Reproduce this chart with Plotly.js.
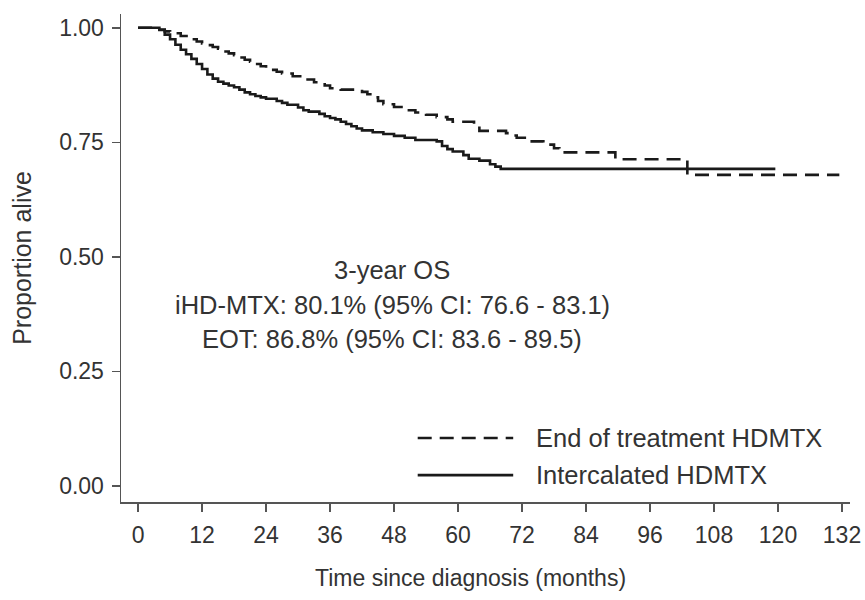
<!DOCTYPE html>
<html>
<head>
<meta charset="utf-8">
<script src="https://cdn.plot.ly/plotly-3.0.1.min.js"></script>
<style>
  html, body { margin: 0; padding: 0; background: #fff; }
  #chart { width: 865px; height: 600px; }
</style>
</head>
<body>
<div id="chart"></div>
<script>
// Kaplan-Meier overall survival, months since diagnosis
const eotMonths = [0, 4, 5, 6, 8, 10, 11, 12, 13, 14, 15, 16, 17, 18, 19, 20, 21, 22, 23, 24, 25, 26, 27, 29, 31, 33, 35, 36, 38, 42, 43, 44, 45, 46, 48, 50, 52, 54, 56, 58, 59, 63, 64, 69, 70, 71, 73, 76, 78, 79, 89.5, 103, 131.5];
const eotSurv   = [1, 0.996, 0.992, 0.988, 0.982, 0.975, 0.97, 0.966, 0.962, 0.958, 0.954, 0.948, 0.944, 0.94, 0.935, 0.93, 0.926, 0.921, 0.916, 0.912, 0.908, 0.904, 0.9, 0.894, 0.887, 0.881, 0.874, 0.868, 0.865, 0.86, 0.855, 0.848, 0.84, 0.833, 0.827, 0.82, 0.815, 0.81, 0.805, 0.8, 0.795, 0.787, 0.775, 0.77, 0.765, 0.76, 0.752, 0.745, 0.737, 0.728, 0.713, 0.679, 0.679];

const ihdMonths = [0, 4, 5, 6, 7, 8, 9, 10, 11, 12, 13, 14, 15, 16, 17, 18, 19, 20, 21, 22, 23, 24, 26, 27, 28, 30, 31, 32, 34, 35, 36, 37, 38, 39, 40, 41, 42, 44, 46, 48, 50, 52, 56, 57, 58, 59, 61, 62, 64, 66, 67, 68, 119.5];
const ihdSurv   = [1, 0.995, 0.985, 0.975, 0.963, 0.952, 0.942, 0.932, 0.921, 0.91, 0.898, 0.889, 0.882, 0.878, 0.874, 0.87, 0.865, 0.859, 0.855, 0.851, 0.848, 0.845, 0.84, 0.836, 0.832, 0.826, 0.82, 0.817, 0.812, 0.807, 0.803, 0.8, 0.795, 0.79, 0.785, 0.78, 0.776, 0.772, 0.768, 0.764, 0.76, 0.755, 0.752, 0.742, 0.735, 0.73, 0.722, 0.714, 0.71, 0.702, 0.697, 0.692, 0.692];

const seriesNames = ['End of treatment HDMTX', 'Intercalated HDMTX'];
const xTicks = [0, 12, 24, 36, 48, 60, 72, 84, 96, 108, 120, 132];
const yTicks = [0, 0.25, 0.5, 0.75, 1];
const osLines = ['3-year OS', 'iHD-MTX: 80.1% (95% CI: 76.6 - 83.1)', 'EOT: 86.8% (95% CI: 83.6 - 89.5)'];
const xTitle = 'Time since diagnosis (months)';
const yTitle = 'Proportion alive';

const FONT = 'Liberation Sans, Arial, sans-serif';
const TXT = '#333333';
const LINE = '#1a1a1a';
const EOT_DASH = '14px,8px';

const traces = [
  {
    x: eotMonths, y: eotSurv, type: 'scatter', mode: 'lines',
    line: { shape: 'hv', color: LINE, width: 2.6, dash: EOT_DASH },
    name: seriesNames[0], showlegend: false, hoverinfo: 'skip'
  },
  {
    x: ihdMonths, y: ihdSurv, type: 'scatter', mode: 'lines',
    line: { shape: 'hv', color: LINE, width: 2.6 },
    name: seriesNames[1], showlegend: false, hoverinfo: 'skip'
  }
];

// legend key drawn as line samples plus labels
const keyX0 = 0.407, keyX1 = 0.538, keyTextX = 0.566;
const keyY = [0.131, 0.055];
const shapes = [
  { type: 'line', xref: 'paper', yref: 'paper', x0: keyX0, x1: keyX1, y0: keyY[0], y1: keyY[0],
    line: { color: LINE, width: 2.6, dash: EOT_DASH } },
  { type: 'line', xref: 'paper', yref: 'paper', x0: keyX0, x1: keyX1, y0: keyY[1], y1: keyY[1],
    line: { color: LINE, width: 2.6 } }
];

const annotations = [
  { xref: 'paper', yref: 'paper', x: keyTextX, y: keyY[0], xanchor: 'left', yanchor: 'middle',
    text: seriesNames[0], showarrow: false, font: { family: FONT, size: 25.5, color: TXT } },
  { xref: 'paper', yref: 'paper', x: keyTextX, y: keyY[1], xanchor: 'left', yanchor: 'middle',
    text: seriesNames[1], showarrow: false, font: { family: FONT, size: 25.5, color: TXT } },
  // x-axis title
  { xref: 'paper', yref: 'paper', x: 0.479, y: -0.156, xanchor: 'center', yanchor: 'middle',
    text: xTitle, showarrow: false, font: { family: FONT, size: 23, color: TXT } },
  // y-axis title
  { xref: 'paper', yref: 'paper', x: -0.136, y: 0.5, xanchor: 'center', yanchor: 'middle',
    text: yTitle, textangle: -90, showarrow: false, font: { family: FONT, size: 25, color: TXT } }
];
const osY = [0.475, 0.404, 0.334];
osLines.forEach((t, i) => annotations.push({
  xref: 'paper', yref: 'paper', x: 0.372, y: osY[i], xanchor: 'center', yanchor: 'middle',
  text: t, showarrow: false, font: { family: FONT, size: 25.5, color: TXT }
}));

const layout = {
  width: 865, height: 600,
  margin: { l: 121, r: 15, t: 14, b: 98 },
  paper_bgcolor: '#ffffff', plot_bgcolor: '#ffffff',
  font: { family: FONT, size: 23, color: TXT },
  showlegend: false,
  xaxis: {
    range: [-3.2, 133.5], tickvals: xTicks, ticktext: xTicks.map(String),
    showgrid: false, zeroline: false,
    showline: true, linecolor: '#555555', linewidth: 1.5,
    ticks: 'outside', ticklen: 8, tickwidth: 1.5, tickcolor: '#555555',
    ticklabelstandoff: 4,
    tickfont: { family: FONT, size: 23, color: TXT }
  },
  yaxis: {
    range: [-0.035, 1.03], tickvals: yTicks, tickformat: '.2f',
    showgrid: false, zeroline: false,
    showline: true, linecolor: '#555555', linewidth: 1.5,
    ticks: 'outside', ticklen: 8, tickwidth: 1.5, tickcolor: '#555555',
    ticklabelstandoff: 3,
    tickfont: { family: FONT, size: 23, color: TXT }
  },
  shapes: shapes,
  annotations: annotations
};

Plotly.newPlot('chart', traces, layout, { staticPlot: true, displayModeBar: false });
</script>
</body>
</html>
